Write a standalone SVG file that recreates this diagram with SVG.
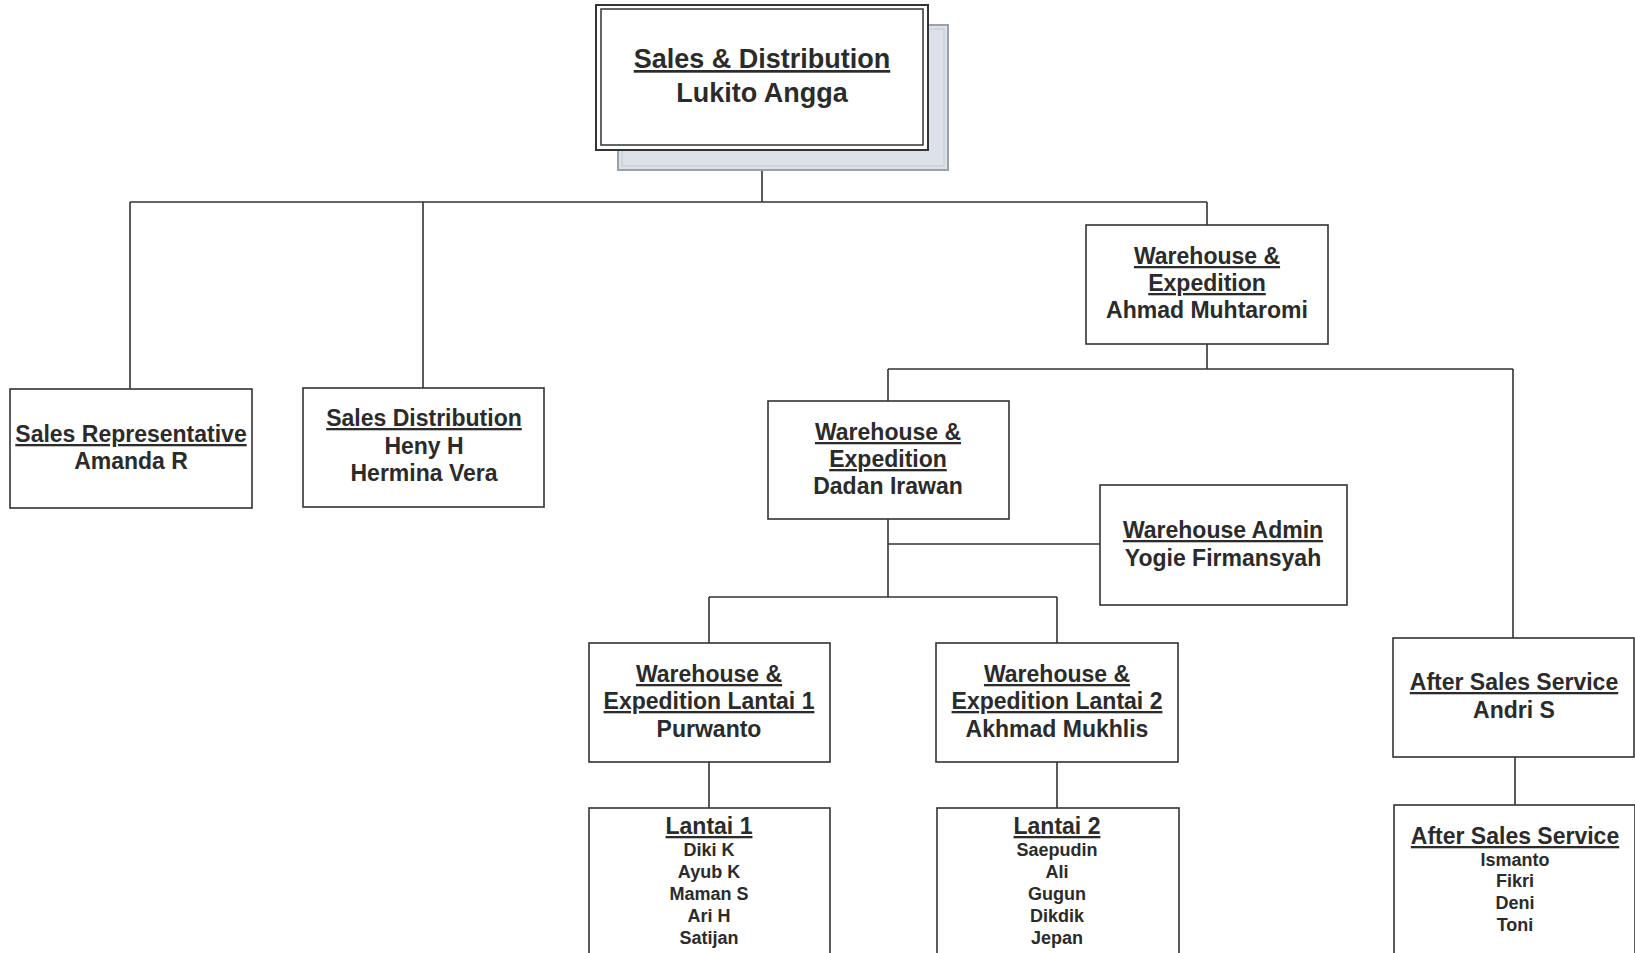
<svg xmlns="http://www.w3.org/2000/svg" width="1635" height="953" viewBox="0 0 1635 953">
<style>
.box{fill:#fff;stroke:#333;stroke-width:1.6}
.conn{stroke:#333;stroke-width:1.6;fill:none}
text{font-family:"Liberation Sans",Arial,sans-serif;font-weight:bold;fill:#2b2b2b;text-anchor:middle}
.h{font-size:23px;text-decoration:underline}
.n{font-size:23px}
.s{font-size:18px}
.th{font-size:27px;text-decoration:underline}
.tn{font-size:27px}
</style>
<rect width="1635" height="953" fill="#fff"/>
<g id="connectors">
<path class="conn" d="M762,150V202 M130,202H1207 M130,202V389 M423,202V388 M1207,202V225 M1207,344V369 M888,369H1513 M888,369V401 M1513,369V638 M888,519V597 M888,544H1100 M709,597H1057 M709,597V643 M1057,597V643 M709,762V808 M1057,762V808 M1515,757V805"/>
</g>
<g id="top">
<rect x="618" y="25" width="330" height="145" fill="#dde2ea" stroke="#9aa1ab" stroke-width="2"/>
<rect x="622" y="29" width="322" height="137" fill="none" stroke="#c3c8d0" stroke-width="1"/>
<rect x="596" y="5" width="332" height="145" fill="#fff" stroke="#333" stroke-width="2"/>
<rect x="601" y="9" width="322" height="136" fill="none" stroke="#333" stroke-width="1.5"/>
<text class="th" x="762" y="68">Sales &amp; Distribution</text>
<text class="tn" x="762" y="102">Lukito Angga</text>
</g>
<g id="sales-rep">
<rect class="box" x="10" y="389" width="242" height="119"/>
<text class="h" x="131" y="442">Sales Representative</text>
<text class="n" x="131" y="469">Amanda R</text>
</g>
<g id="sales-dist">
<rect class="box" x="303" y="388" width="241" height="119"/>
<text class="h" x="424" y="426">Sales Distribution</text>
<text class="n" x="424" y="454">Heny H</text>
<text class="n" x="424" y="481">Hermina Vera</text>
</g>
<g id="wh-ahmad">
<rect class="box" x="1086" y="225" width="242" height="119"/>
<text class="h" x="1207" y="264">Warehouse &amp;</text>
<text class="h" x="1207" y="291">Expedition</text>
<text class="n" x="1207" y="318">Ahmad Muhtaromi</text>
</g>
<g id="wh-dadan">
<rect class="box" x="768" y="401" width="241" height="118"/>
<text class="h" x="888" y="440">Warehouse &amp;</text>
<text class="h" x="888" y="467">Expedition</text>
<text class="n" x="888" y="494">Dadan Irawan</text>
</g>
<g id="wh-admin">
<rect class="box" x="1100" y="485" width="247" height="120"/>
<text class="h" x="1223" y="538">Warehouse Admin</text>
<text class="n" x="1223" y="566">Yogie Firmansyah</text>
</g>
<g id="wh-l1">
<rect class="box" x="589" y="643" width="241" height="119"/>
<text class="h" x="709" y="682">Warehouse &amp;</text>
<text class="h" x="709" y="709">Expedition Lantai 1</text>
<text class="n" x="709" y="737">Purwanto</text>
</g>
<g id="wh-l2">
<rect class="box" x="936" y="643" width="242" height="119"/>
<text class="h" x="1057" y="682">Warehouse &amp;</text>
<text class="h" x="1057" y="709">Expedition Lantai 2</text>
<text class="n" x="1057" y="737">Akhmad Mukhlis</text>
</g>
<g id="after-sales">
<rect class="box" x="1393" y="638" width="241" height="119"/>
<text class="h" x="1514" y="690">After Sales Service</text>
<text class="n" x="1514" y="718">Andri S</text>
</g>
<g id="lantai1">
<rect class="box" x="589" y="808" width="241" height="160"/>
<text class="h" x="709" y="834">Lantai 1</text>
<text class="s" x="709" y="856">Diki K</text>
<text class="s" x="709" y="878">Ayub K</text>
<text class="s" x="709" y="900">Maman S</text>
<text class="s" x="709" y="922">Ari H</text>
<text class="s" x="709" y="944">Satijan</text>
</g>
<g id="lantai2">
<rect class="box" x="937" y="808" width="242" height="160"/>
<text class="h" x="1057" y="834">Lantai 2</text>
<text class="s" x="1057" y="856">Saepudin</text>
<text class="s" x="1057" y="878">Ali</text>
<text class="s" x="1057" y="900">Gugun</text>
<text class="s" x="1057" y="922">Dikdik</text>
<text class="s" x="1057" y="944">Jepan</text>
</g>
<g id="after-sales-team">
<rect class="box" x="1394" y="805" width="241" height="160"/>
<text class="h" x="1515" y="844">After Sales Service</text>
<text class="s" x="1515" y="866">Ismanto</text>
<text class="s" x="1515" y="887">Fikri</text>
<text class="s" x="1515" y="909">Deni</text>
<text class="s" x="1515" y="931">Toni</text>
</g>
</svg>
